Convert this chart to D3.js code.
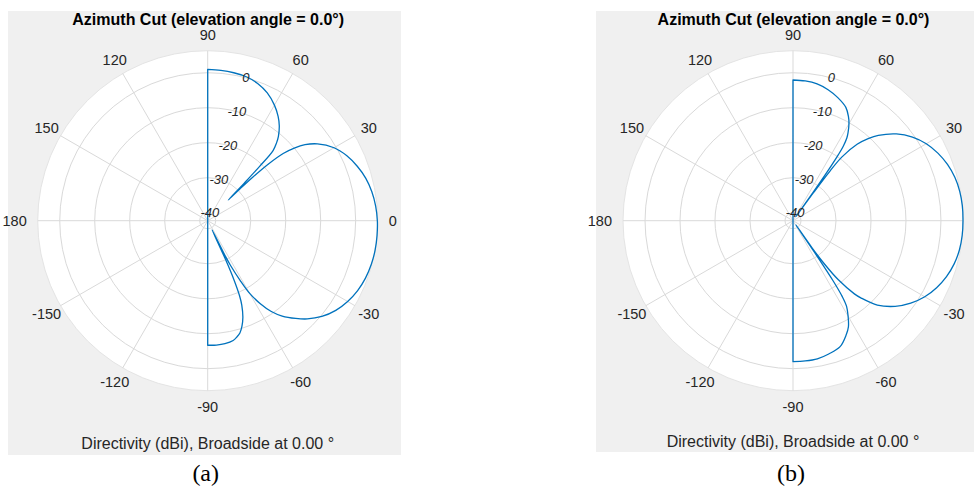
<!DOCTYPE html>
<html>
<head>
<meta charset="utf-8">
<script src="https://cdn.jsdelivr.net/npm/d3@7"></script>
<style>
  body { margin: 0; background: #fff; }
  svg text { font-family: "Liberation Sans", Arial, sans-serif; }
</style>
</head>
<body>
<div id="my_dataviz"></div>
<script>
// set the dimensions of the figure
let width = 974,
    height = 486

var azA  = [-90, -86, -82, -78, -76, -74, -72, -70, -68, -67, -66, -65.3, -64.5, -63.5, -63, -61.5, -60, -57.7, -55, -52,
            -48, -44.6, -40, -35, -30, -25, -20, -15, -10, -5, 0, 5, 10, 15, 20, 25, 30, 35, 38, 40,
            41.7, 43, 44, 44.6, 45.2, 45.8, 46.3, 47, 48.5, 50, 53, 56, 60, 65, 70, 75, 80, 85, 90]
var dirA = [-6.7, -6.65, -6.8, -7.3, -8.0, -8.9, -10.6, -12.9, -16.3, -19.0, -24.0, -30.0, -39.4, -30.9, -28.0, -22.9, -18.3, -14.3, -10.6, -7.7,
            -4.7, -2.3, 0.3, 2.4, 3.9, 5.0, 5.7, 6.1, 6.3, 6.3, 6.2, 5.9, 5.35, 4.5, 3.2, 1.6, -0.6, -4.0, -7.0, -10.0,
            -13.4, -18.3, -24.3, -29.4, -34.0, -27.4, -20.9, -14.9, -12.6, -10.85, -8.3, -6.3, -4.15, -2.0, -0.55, 0.3, 0.65, 0.85, 0.98]

var azB  = [-90, -85, -80, -75, -69.5, -65, -62.4, -60, -58, -57, -56.3, -55.8, -55.4, -54.9, -54, -52.5, -50, -48.6, -45, -40,
            -35, -30, -25, -20, -15, -10, -5, 0, 5, 10, 15, 20, 25, 30, 35, 40, 45, 47.5, 50, 52.5,
            53.3, 53.8, 54.2, 54.6, 55, 55.5, 56, 57, 58, 60, 62, 65, 70, 75, 80, 85, 90]
var dirB = [-2.0, -2.05, -2.2, -2.85, -3.85, -6.3, -8.1, -10.8, -13.4, -16.5, -21.5, -30.0, -40.9, -33.0, -27.0, -21.0, -15.0, -12.8, -8.2, -4.2,
            -1.2, 1.2, 3.0, 4.4, 5.4, 6.0, 6.25, 6.3, 6.3, 6.1, 5.6, 4.7, 3.4, 1.7, -0.6, -3.7, -7.8, -10.5, -13.8, -19.4,
            -24.6, -32.3, -40.9, -32.3, -24.6, -19.4, -16.6, -14.0, -12.6, -10.3, -8.55, -6.55, -4.85, -3.55, -2.6, -2.2, -2.08]

// axis ticks
var angleTicks = [0, 30, 60, 90, 120, 150, 180, -150, -120, -90, -60, -30]
var ringTicks = [-40, -30, -20, -10, 0]
var magLim = [-42.3, 6.3]

var titleText = "Azimuth Cut (elevation angle = 0.0\u00B0)"
var footText = "Directivity (dBi), Broadside at 0.00 \u00B0"

var panels = [
  {az: azA, dir: dirA, label: "(a)", box: [8, 11, 393, 444], cx: 207.7, cy: 220.7, foot: 443.3},
  {az: azB, dir: dirB, label: "(b)", box: [596, 11, 390, 441], cx: 793, cy: 220.7, foot: 441.7}
]

var R = 170

var svg = d3.select("#my_dataviz")
  .append("svg")
    .attr("width", width)
    .attr("height", height)
    .style("display", "block")

// magnitude -> radius
var r = d3.scaleLinear().domain(magLim).range([0, R]).clamp(true)
var rad = function(deg) { return (90 - deg) * Math.PI / 180 }

var patternLine = d3.lineRadial()
  .angle(function(d) { return rad(d[0]) })
  .radius(function(d) { return r(d[1]) })
  .curve(d3.curveCatmullRom.alpha(0.5))

panels.forEach(function(p) {
  svg.append("rect")
    .attr("x", p.box[0]).attr("y", p.box[1])
    .attr("width", p.box[2]).attr("height", p.box[3])
    .attr("fill", "#f0f0f0")

  var g = svg.append("g")
    .attr("transform", "translate(" + p.cx + "," + p.cy + ")")

  // white polar area
  g.append("circle").attr("r", R).attr("fill", "#fff").attr("stroke", "#e4e4e4").attr("stroke-width", 1)

  // rings
  g.selectAll(".ring").data(ringTicks).enter()
    .append("circle")
    .attr("r", function(d) { return r(d) })
    .attr("fill", "none")
    .attr("stroke", "#d9d9d9")
    .attr("stroke-width", 1)

  // spokes
  g.selectAll(".spoke").data(angleTicks).enter()
    .append("line")
    .attr("x1", 0).attr("y1", 0)
    .attr("x2", function(d) { return R * Math.cos(d * Math.PI / 180) })
    .attr("y2", function(d) { return -R * Math.sin(d * Math.PI / 180) })
    .attr("stroke", "#d9d9d9")
    .attr("stroke-width", 1)

  // angle labels
  g.selectAll(".alab").data(angleTicks).enter()
    .append("text")
    .attr("x", function(d) {
      var c = Math.cos(d * Math.PI / 180)
      return Math.abs(c) > 0.99 ? 181 * c : 186 * c
    })
    .attr("y", function(d) { return -186 * Math.sin(d * Math.PI / 180) })
    .attr("text-anchor", function(d) {
      var c = Math.cos(d * Math.PI / 180)
      return c > 0.99 ? "start" : (c < -0.99 ? "end" : "middle")
    })
    .attr("dominant-baseline", "central")
    .style("font-size", "14.5px")
    .attr("fill", "#262626")
    .text(function(d) { return d })

  // pattern: behind +-90 deg the level is under the floor, so the trace
  // runs in from the origin and back out to it
  var pts = p.az.map(function(a, i) { return [a, p.dir[i]] })
  var d = patternLine(pts).replace(/^M/, "M0,0L") + "L0,0"

  g.append("path")
    .attr("d", d)
    .attr("fill", "none")
    .attr("stroke", "#0072BD")
    .attr("stroke-width", 1.3)
    .attr("stroke-linejoin", "round")

  // magnitude labels at 75 deg
  g.selectAll(".mlab").data(ringTicks).enter()
    .append("text")
    .attr("x", function(d) { return r(d) * Math.cos(75 * Math.PI / 180) })
    .attr("y", function(d) { return -r(d) * Math.sin(75 * Math.PI / 180) })
    .attr("text-anchor", "middle")
    .attr("dominant-baseline", "central")
    .style("font-size", "13px")
    .style("font-style", "italic")
    .attr("fill", "#262626")
    .text(function(d) { return d })

  // title and footer
  svg.append("text")
    .attr("x", p.cx + 0.5).attr("y", 19.5)
    .attr("text-anchor", "middle")
    .attr("dominant-baseline", "central")
    .style("font-size", "16px")
    .style("font-weight", "bold")
    .attr("fill", "#000")
    .text(titleText)

  svg.append("text")
    .attr("x", p.cx).attr("y", p.foot)
    .attr("text-anchor", "middle")
    .attr("dominant-baseline", "central")
    .style("font-size", "16px")
    .attr("fill", "#262626")
    .text(footText)

  svg.append("text")
    .attr("x", p.cx - 2).attr("y", 473)
    .attr("text-anchor", "middle")
    .attr("dominant-baseline", "central")
    .style("font-family", "'Liberation Serif', 'Times New Roman', serif")
    .style("font-size", "24px")
    .attr("fill", "#000")
    .text(p.label)
})
</script>
</body>
</html>
